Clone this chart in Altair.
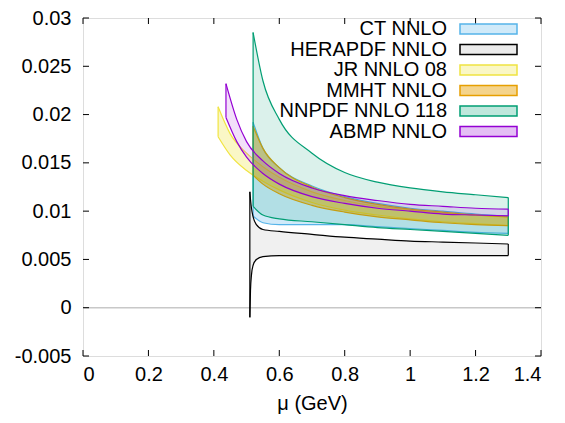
import altair as alt
import pandas as pd

# ---------------- data ----------------
names = ["CT NNLO", "HERAPDF NNLO", "JR NNLO 08", "MMHT NNLO", "NNPDF NNLO 118", "ABMP NNLO"]
colors = ["#56b4e9", "#000000", "#f0e442", "#e69f00", "#009e73", "#9400d3"]
fill_op = [0.28, 0.06, 0.30, 0.45, 0.14, 0.12]

ct_mu = [0.52, 0.55, 0.6, 0.7, 0.8, 0.9, 1.0, 1.1, 1.2, 1.3]
ct_hi = [0.0192, 0.0165, 0.0145, 0.0126, 0.0115, 0.0108, 0.0103, 0.0100, 0.0097, 0.0095]
ct_lo = [0.0095, 0.0088, 0.0086, 0.0086, 0.0086, 0.0084, 0.0082, 0.0080, 0.0078, 0.0077]

hera_mu = [0.51, 0.512, 0.515, 0.52, 0.53, 0.55, 0.6, 0.7, 0.8, 0.9, 1.0, 1.1, 1.2, 1.3]
hera_hi = [0.0120, 0.0112, 0.0103, 0.0094, 0.0086, 0.0081, 0.0079, 0.0076, 0.0073, 0.0071, 0.0069, 0.0068, 0.0067, 0.0066]
hera_lo = [-0.0010, 0.0018, 0.0034, 0.0044, 0.0050, 0.0053, 0.0054, 0.0054, 0.0054, 0.0054, 0.0054, 0.0054, 0.0054, 0.0054]

jr_mu = [0.413, 0.45, 0.5, 0.55, 0.6, 0.7, 0.8, 0.9, 1.0, 1.1, 1.2, 1.3]
jr_hi = [0.0208, 0.0180, 0.0160, 0.0146, 0.0135, 0.0120, 0.0111, 0.0105, 0.0101, 0.0098, 0.0096, 0.0094]
jr_lo = [0.0177, 0.0158, 0.0142, 0.0131, 0.0122, 0.0109, 0.0101, 0.0096, 0.0092, 0.0089, 0.0087, 0.0085]

mmht_mu = [0.52, 0.55, 0.6, 0.7, 0.8, 0.9, 1.0, 1.1, 1.2, 1.3]
mmht_hi = [0.0188, 0.0165, 0.0145, 0.0125, 0.0114, 0.0107, 0.0102, 0.0099, 0.0096, 0.0094]
mmht_lo = [0.0137, 0.0128, 0.0118, 0.0106, 0.0099, 0.0094, 0.0091, 0.0088, 0.0086, 0.0085]

nnpdf_mu = [0.52, 0.55, 0.6, 0.7, 0.8, 0.9, 1.0, 1.1, 1.2, 1.3]
nnpdf_hi = [0.0285, 0.0235, 0.0195, 0.0160, 0.0140, 0.0130, 0.0124, 0.0120, 0.0117, 0.0114]
nnpdf_lo = [0.0105, 0.0096, 0.0092, 0.0089, 0.0086, 0.0083, 0.0081, 0.0079, 0.0077, 0.0075]

abmp_mu = [0.437, 0.47, 0.5, 0.55, 0.6, 0.7, 0.8, 0.9, 1.0, 1.1, 1.2, 1.3]
abmp_hi = [0.0232, 0.0195, 0.0172, 0.0152, 0.0139, 0.0124, 0.0116, 0.0111, 0.0107, 0.0105, 0.0103, 0.0102]
abmp_lo = [0.0197, 0.0172, 0.0156, 0.0139, 0.0128, 0.0115, 0.0108, 0.0103, 0.0100, 0.0097, 0.0096, 0.0095]

x_ticks = [0, 0.2, 0.4, 0.6, 0.8, 1.0, 1.2, 1.4]
y_ticks = [-0.005, 0, 0.005, 0.01, 0.015, 0.02, 0.025, 0.03]

sets = [
    (ct_mu, ct_hi, ct_lo),
    (hera_mu, hera_hi, hera_lo),
    (jr_mu, jr_hi, jr_lo),
    (mmht_mu, mmht_hi, mmht_lo),
    (nnpdf_mu, nnpdf_hi, nnpdf_lo),
    (abmp_mu, abmp_hi, abmp_lo),
]

W, H = 458, 338
FONT = "Liberation Sans"
FS = 20

xsc = alt.Scale(domain=[0, 1.4], nice=False, zero=False)
ysc = alt.Scale(domain=[-0.005, 0.03], nice=False, zero=False)
minus_fix = "replace(format(datum.value, '~g'), '\u2212', '-')"

layers = []

# zero line
zero_df = pd.DataFrame({"y": [0.0]})
layers.append(
    alt.Chart(zero_df).mark_rule(color="#c8c8c8", strokeWidth=1.5).encode(
        y=alt.Y("y:Q", scale=ysc,
                axis=alt.Axis(values=y_ticks, labelExpr=minus_fix, title=None, tickSize=0,
                              labelPadding=12, labelFont=FONT, labelFontSize=FS,
                              labelColor="black", domain=False, grid=False)),
        x=alt.value(0), x2=alt.value(W),
    )
)

# bands
for name, col, op, (mu, hi, lo) in zip(names, colors, fill_op, sets):
    df = pd.DataFrame({"mu": mu, "hi": hi, "lo": lo})
    base = alt.Chart(df)
    area = base.mark_area(color=col, opacity=op, interpolate="monotone").encode(
        x=alt.X("mu:Q", scale=xsc), y=alt.Y("hi:Q", scale=ysc), y2="lo:Q"
    )
    up = base.mark_line(color=col, strokeWidth=1.2, interpolate="monotone").encode(
        x=alt.X("mu:Q", scale=xsc), y=alt.Y("hi:Q", scale=ysc)
    )
    dn = base.mark_line(color=col, strokeWidth=1.2, interpolate="monotone").encode(
        x=alt.X("mu:Q", scale=xsc), y=alt.Y("lo:Q", scale=ysc)
    )
    ends = pd.DataFrame({"mu": [mu[0], mu[-1]], "hi": [hi[0], hi[-1]], "lo": [lo[0], lo[-1]]})
    edge = alt.Chart(ends).mark_rule(color=col, strokeWidth=1.2).encode(
        x=alt.X("mu:Q", scale=xsc), y=alt.Y("hi:Q", scale=ysc), y2="lo:Q"
    )
    layers += [area, up, dn, edge]

# inward tick marks on all four sides
TL = 6
xt = pd.DataFrame({"v": x_ticks})
yt = pd.DataFrame({"v": y_ticks})
layers.append(alt.Chart(xt).mark_rule(color="black").encode(
    x=alt.X("v:Q", scale=xsc,
            axis=alt.Axis(values=x_ticks, format="~g", title="\u03bc (GeV)", tickSize=0,
                          labelPadding=8, labelFont=FONT, labelFontSize=FS, labelColor="black",
                          titleFont=FONT, titleFontSize=FS, titleFontWeight="normal",
                          titleColor="black", titlePadding=9, domain=False, grid=False)),
    y=alt.value(H), y2=alt.value(H - TL)))
layers.append(alt.Chart(xt).mark_rule(color="black").encode(
    x=alt.X("v:Q", scale=xsc), y=alt.value(0), y2=alt.value(TL)))
layers.append(alt.Chart(yt).mark_rule(color="black").encode(
    y=alt.Y("v:Q", scale=ysc), x=alt.value(0), x2=alt.value(TL)))
layers.append(alt.Chart(yt).mark_rule(color="black").encode(
    y=alt.Y("v:Q", scale=ysc), x=alt.value(W), x2=alt.value(W - TL)))

# legend (top right, text then swatch)
row0, drow = 11, 20.5
for i, (name, col, op) in enumerate(zip(names, colors, fill_op)):
    cy = row0 + i * drow
    ld = alt.Data(values=[{"label": name}])
    layers.append(alt.Chart(ld).mark_text(align="right", baseline="middle", font=FONT,
                                          fontSize=FS, color="black").encode(
        text="label:N", x=alt.value(364), y=alt.value(cy)))
    layers.append(alt.Chart(ld).mark_rect(fill=col, fillOpacity=max(op, 0.25) if col != "#000000" else 0.08,
                                          stroke=col, strokeWidth=1.5).encode(
        x=alt.value(377), x2=alt.value(434), y=alt.value(cy - 5), y2=alt.value(cy + 5)))

chart = alt.layer(*layers).properties(
    width=W, height=H,
    autosize=alt.AutoSizeParams(type="none"),
    padding={"left": 75, "top": 10, "right": 16, "bottom": 65},
).configure_view(stroke="black", strokeWidth=1.5).configure(background="white")

chart.save("out.html", embed_options={"renderer": "svg", "actions": False})
